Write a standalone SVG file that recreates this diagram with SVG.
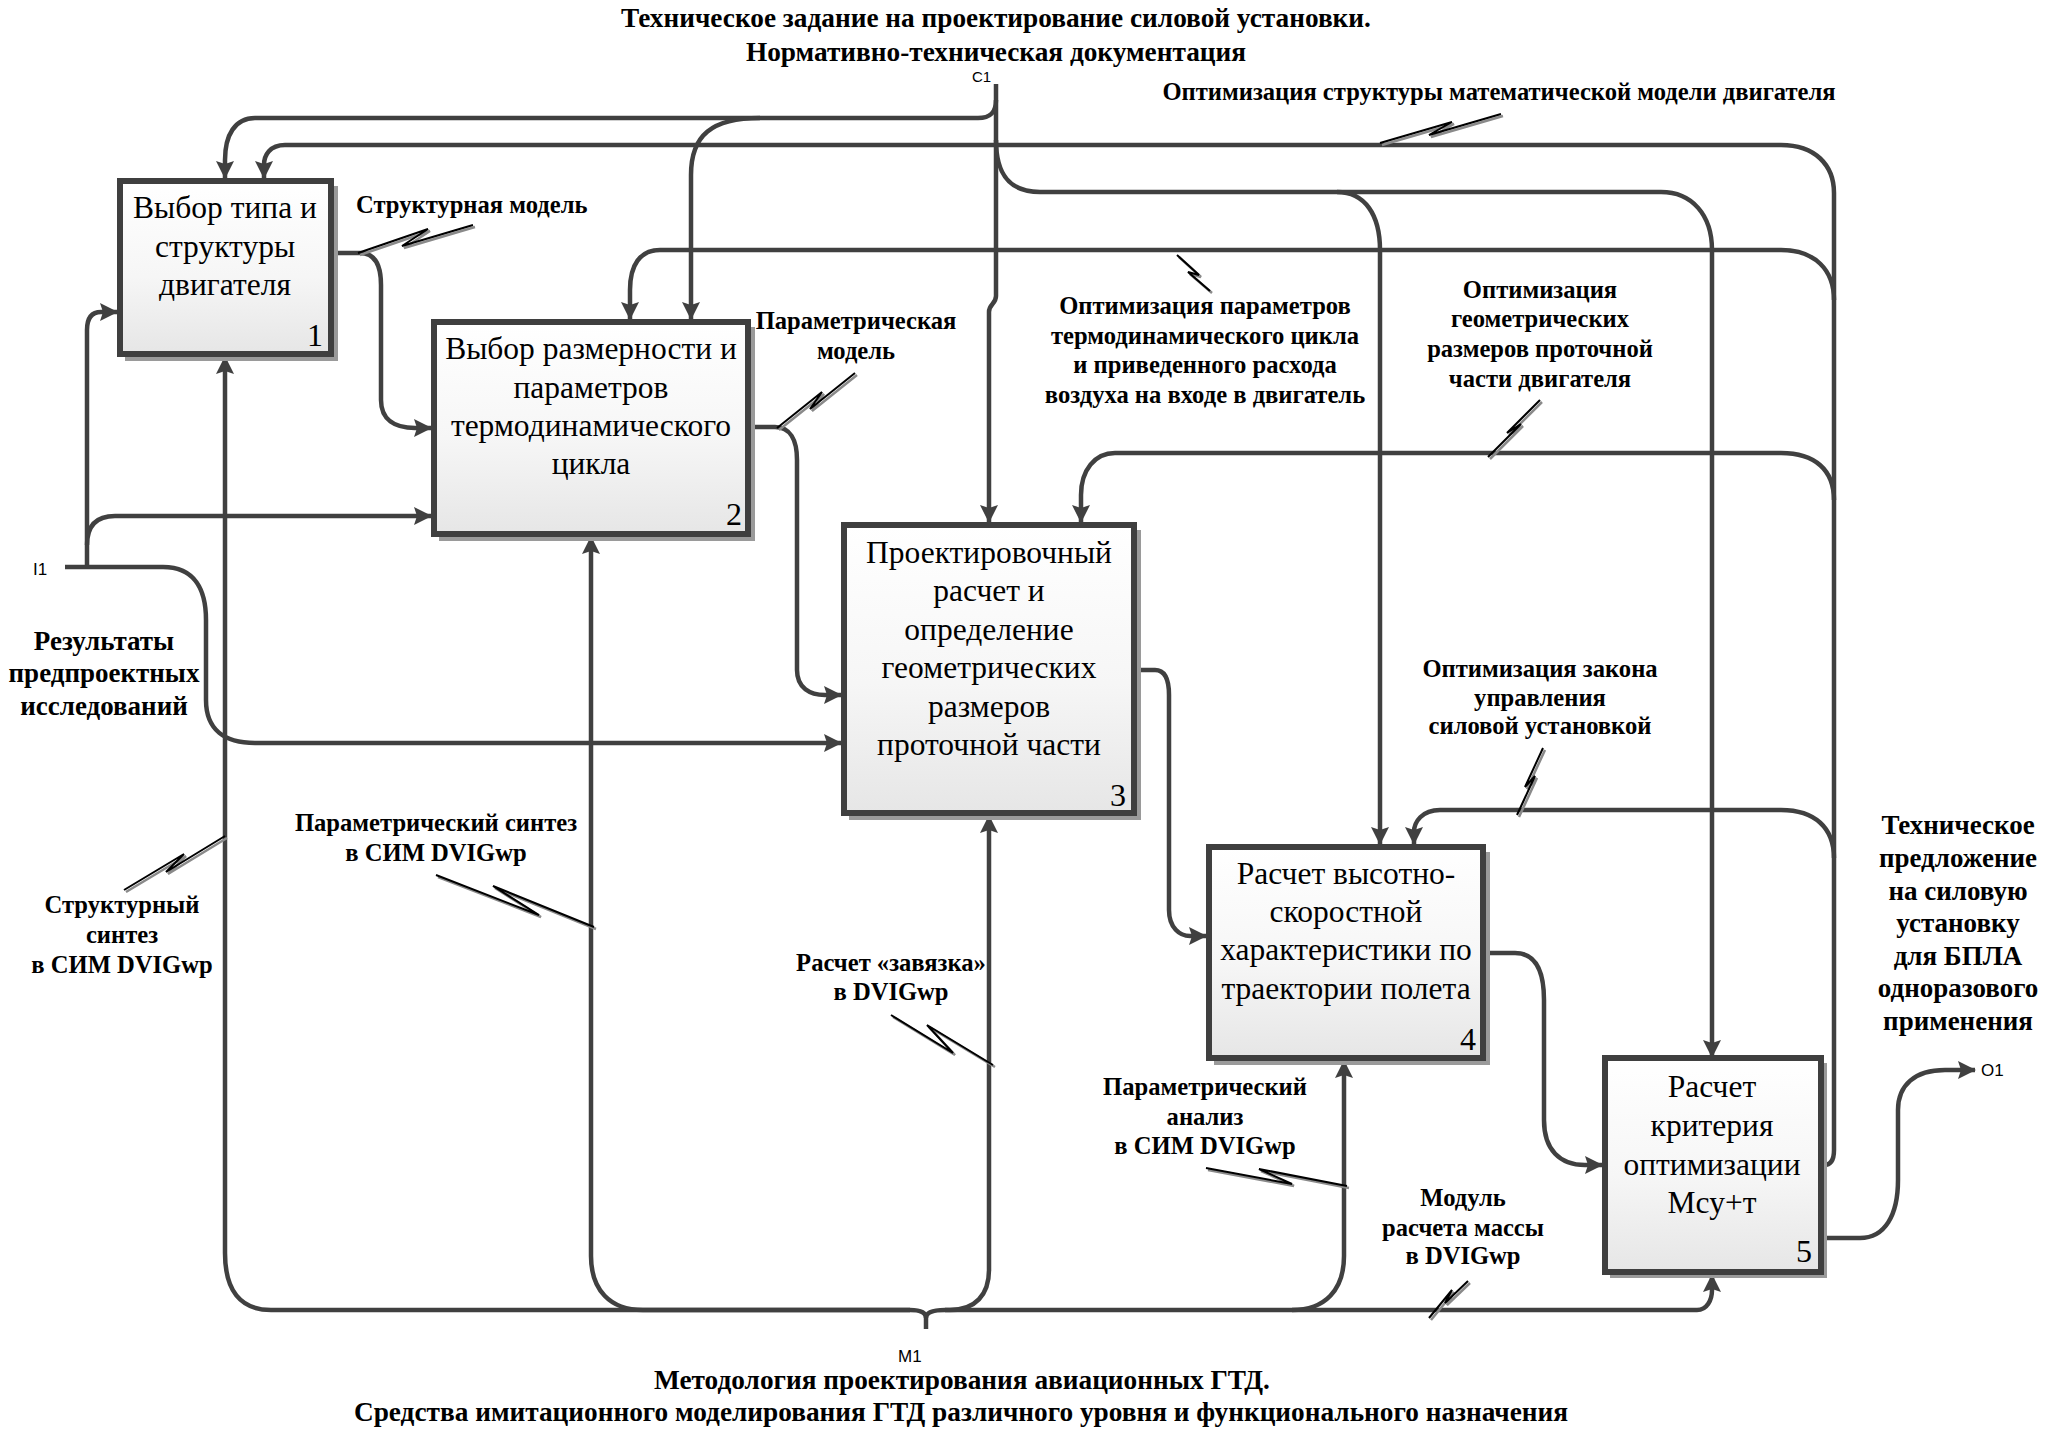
<svg xmlns="http://www.w3.org/2000/svg" width="2048" height="1433" viewBox="0 0 2048 1433">
<style>
.bg{fill:#ffffff}
.box{fill:url(#boxfill);stroke:#3f3f3f;stroke-width:6}
.shadow{fill:#9a9a9a}
.ln{fill:none;stroke:#404040;stroke-width:4.5;stroke-linejoin:round}
.arr{marker-end:url(#ah)}
.sq{fill:none;stroke:#000;stroke-width:2;stroke-linejoin:miter}
.sqs{fill:none;stroke:#8a8a8a;stroke-width:2.5}
.bt{font-family:"Liberation Serif","Times New Roman",serif;font-size:31.5px;fill:#000;text-anchor:middle}
.num{font-family:"Liberation Serif","Times New Roman",serif;font-size:32px;fill:#000;text-anchor:end}
.lb{font-family:"Liberation Serif","Times New Roman",serif;font-size:24.6px;font-weight:bold;fill:#000;text-anchor:middle}
.lbb{font-size:27px}
.ttl{font-family:"Liberation Serif","Times New Roman",serif;font-size:27.3px;font-weight:bold;fill:#000;text-anchor:middle}
.tag{font-family:"Liberation Sans",Arial,sans-serif;font-size:17px;fill:#000}
</style>
<defs>
<linearGradient id="boxfill" x1="0" y1="0" x2="0" y2="1">
<stop offset="0" stop-color="#ffffff"/>
<stop offset="0.55" stop-color="#f6f6f6"/>
<stop offset="1" stop-color="#e6e6e6"/>
</linearGradient>
<marker id="ah" markerUnits="userSpaceOnUse" markerWidth="18" markerHeight="18" viewBox="0 0 18 18" refX="17" refY="9" orient="auto">
<path d="M0,0 L18,9 L0,18 L3,9 z" fill="#404040"/>
</marker>
</defs>
<rect class="bg" x="0" y="0" width="2048" height="1433"/>

<g id="titles">
<text class="ttl" x="996" y="27">Техническое задание на проектирование силовой установки.</text>
<text class="ttl" x="996" y="61">Нормативно-техническая документация</text>
<text class="ttl" x="962" y="1389">Методология проектирования авиационных ГТД.</text>
<text class="ttl" x="961" y="1421">Средства имитационного моделирования ГТД различного уровня и функционального назначения</text>
<text class="tag" x="972" y="82" style="font-size:15px">C1</text>
<text class="tag" x="33" y="575">I1</text>
<text class="tag" x="898" y="1362">M1</text>
<text class="tag" x="1981" y="1076">O1</text>
</g>

<g id="connectors">
<!-- control C1 -->
<path class="ln arr" d="M996,84 V296 C996,304 989,304 989,312 V522"/>
<path class="ln arr" d="M996,100 C996,113 990,118 978,118 H255 C235,118 225,135 225,160 V178"/>
<path class="ln arr" d="M760,118 C712,118 691,135 691,175 V319"/>
<path class="ln arr" d="M996,140 C996,175 1010,192 1040,192 H1337 C1365,192 1380,215 1380,250 V844"/>
<path class="ln arr" d="M1337,192 H1661 C1692,192 1712,215 1712,250 V1057"/>
<!-- feedback trunk from box 5 -->
<path class="ln arr" d="M1824,1165 C1831,1165 1834,1160 1834,1150 V193 C1834,165 1815,145 1781,145 H285 C270,145 264,155 264,165 V178"/>
<path class="ln arr" d="M1834,300 C1834,270 1815,250 1781,250 H660 C640,250 630,265 630,290 V319"/>
<path class="ln arr" d="M1834,500 C1834,470 1815,453 1781,453 H1115 C1095,453 1081,470 1081,495 V522"/>
<path class="ln arr" d="M1834,858 C1834,828 1815,810 1781,810 H1440 C1422,810 1414,822 1414,832 V844"/>
<!-- input I1 -->
<path class="ln arr" d="M65,567 H163 C195,567 206,590 206,620 V700 C206,730 225,743 255,743 H841"/>
<path class="ln arr" d="M87,567 V545 C87,525 97,516 115,516 H431"/>
<path class="ln arr" d="M87,545 V330 C87,318 92,312 101,312 H117"/>
<!-- box to box -->
<path class="ln arr" d="M334,253 H360 C375,253 381,265 381,285 V400 C381,420 395,428 415,428 H431"/>
<path class="ln arr" d="M751,427 H775 C790,427 797,440 797,460 V670 C797,688 810,695 825,695 H841"/>
<path class="ln arr" d="M1137,670 H1155 C1165,670 1169,680 1169,695 V910 C1169,928 1180,936 1190,936 H1206"/>
<path class="ln arr" d="M1486,953 H1515 C1535,953 1544,970 1544,1000 V1120 C1544,1150 1560,1165 1585,1165 H1602"/>
<path class="ln arr" d="M1824,1238 H1860 C1885,1238 1898,1215 1898,1180 V1110 C1898,1085 1915,1070 1945,1070 H1975"/>
<!-- mechanism M1 -->
<path class="ln" d="M926,1329 V1318"/>
<path class="ln arr" d="M926,1318 C926,1313 921,1310 910,1310 H271 C240,1310 225,1290 225,1253 V357"/>
<path class="ln arr" d="M910,1310 H643 C610,1310 591,1290 591,1256 V537"/>
<path class="ln arr" d="M926,1318 C926,1313 932,1310 945,1310 H950 C975,1310 989,1295 989,1270 V816"/>
<path class="ln arr" d="M945,1310 H1292 C1325,1310 1344,1290 1344,1256 V1061"/>
<path class="ln arr" d="M1292,1310 H1697 C1707,1310 1712,1300 1712,1290 V1275"/>
<!-- squiggles -->
<g id="squiggles">
<g transform="translate(2,2)">
<path class="sqs" d="M358,253 L428,229 L402,246 L473,225"/>
<path class="sqs" d="M777,428 L822,392 L810,409 L855,373"/>
<path class="sqs" d="M1380,143 L1452,122 L1429,135 L1501,114"/>
<path class="sqs" d="M1177,255 L1199,275 L1188,272 L1210,291"/>
<path class="sqs" d="M1488,457 L1521,424 L1507,433 L1540,400"/>
<path class="sqs" d="M1517,815 L1535,776 L1525,787 L1543,748"/>
<path class="sqs" d="M124,890 L184,854 L166,872 L225,836"/>
<path class="sqs" d="M436,875 L539,915 L493,886 L594,927"/>
<path class="sqs" d="M891,1015 L953,1053 L927,1025 L993,1065"/>
<path class="sqs" d="M1206,1168 L1292,1184 L1259,1169 L1347,1186"/>
<path class="sqs" d="M1429,1318 L1452,1290 L1445,1303 L1468,1281"/>
</g>
<path class="sq" d="M358,253 L428,229 L402,246 L473,225"/>
<path class="sq" d="M777,428 L822,392 L810,409 L855,373"/>
<path class="sq" d="M1380,143 L1452,122 L1429,135 L1501,114"/>
<path class="sq" d="M1177,255 L1199,275 L1188,272 L1210,291"/>
<path class="sq" d="M1488,457 L1521,424 L1507,433 L1540,400"/>
<path class="sq" d="M1517,815 L1535,776 L1525,787 L1543,748"/>
<path class="sq" d="M124,890 L184,854 L166,872 L225,836"/>
<path class="sq" d="M436,875 L539,915 L493,886 L594,927"/>
<path class="sq" d="M891,1015 L953,1053 L927,1025 L993,1065"/>
<path class="sq" d="M1206,1168 L1292,1184 L1259,1169 L1347,1186"/>
<path class="sq" d="M1429,1318 L1452,1290 L1445,1303 L1468,1281"/>
</g>
</g>

<g id="labels">
<text class="lb" x="356" y="213" style="text-anchor:start">Структурная модель</text>
<text class="lb" x="856" y="329">Параметрическая</text>
<text class="lb" x="856" y="359">модель</text>
<text class="lb" x="1499" y="100">Оптимизация структуры математической модели двигателя</text>
<text class="lb" x="1205" y="314">Оптимизация параметров</text>
<text class="lb" x="1205" y="344">термодинамического цикла</text>
<text class="lb" x="1205" y="373">и приведенного расхода</text>
<text class="lb" x="1205" y="403">воздуха на входе в двигатель</text>
<text class="lb" x="1540" y="298">Оптимизация</text>
<text class="lb" x="1540" y="327">геометрических</text>
<text class="lb" x="1540" y="357">размеров проточной</text>
<text class="lb" x="1540" y="387">части двигателя</text>
<text class="lb" x="1540" y="677">Оптимизация закона</text>
<text class="lb" x="1540" y="706">управления</text>
<text class="lb" x="1540" y="734">силовой установкой</text>
<text class="lb lbb" x="104" y="650">Результаты</text>
<text class="lb lbb" x="104" y="682">предпроектных</text>
<text class="lb lbb" x="104" y="715">исследований</text>
<text class="lb" x="436" y="831">Параметрический синтез</text>
<text class="lb" x="436" y="861">в СИМ DVIGwp</text>
<text class="lb" x="122" y="913">Структурный</text>
<text class="lb" x="122" y="943">синтез</text>
<text class="lb" x="122" y="973">в СИМ DVIGwp</text>
<text class="lb" x="891" y="971">Расчет «завязка»</text>
<text class="lb" x="891" y="1000">в DVIGwp</text>
<text class="lb" x="1205" y="1095">Параметрический</text>
<text class="lb" x="1205" y="1125">анализ</text>
<text class="lb" x="1205" y="1154">в СИМ DVIGwp</text>
<text class="lb" x="1463" y="1206">Модуль</text>
<text class="lb" x="1463" y="1236">расчета массы</text>
<text class="lb" x="1463" y="1264">в DVIGwp</text>
<text class="lb lbb" x="1958" y="834">Техническое</text>
<text class="lb lbb" x="1958" y="867">предложение</text>
<text class="lb lbb" x="1958" y="900">на силовую</text>
<text class="lb lbb" x="1958" y="932">установку</text>
<text class="lb lbb" x="1958" y="965">для БПЛА</text>
<text class="lb lbb" x="1958" y="997">одноразового</text>
<text class="lb lbb" x="1958" y="1030">применения</text>
</g>

<g id="node1">
<rect class="shadow" x="125" y="186" width="213" height="175"/>
<rect class="box" x="120" y="181" width="211" height="173"/>
<text class="bt" x="225" y="218">Выбор типа и</text>
<text class="bt" x="225" y="257">структуры</text>
<text class="bt" x="225" y="295">двигателя</text>
<text class="num" x="323" y="346">1</text>
</g>

<g id="node2">
<rect class="shadow" x="439" y="327" width="316" height="214"/>
<rect class="box" x="434" y="322" width="314" height="212"/>
<text class="bt" x="591" y="359">Выбор размерности и</text>
<text class="bt" x="591" y="398">параметров</text>
<text class="bt" x="591" y="436">термодинамического</text>
<text class="bt" x="591" y="474">цикла</text>
<text class="num" x="742" y="525">2</text>
</g>

<g id="node3">
<rect class="shadow" x="849" y="530" width="292" height="290"/>
<rect class="box" x="844" y="525" width="290" height="288"/>
<text class="bt" x="989" y="563">Проектировочный</text>
<text class="bt" x="989" y="601">расчет и</text>
<text class="bt" x="989" y="640">определение</text>
<text class="bt" x="989" y="678">геометрических</text>
<text class="bt" x="989" y="717">размеров</text>
<text class="bt" x="989" y="755">проточной части</text>
<text class="num" x="1126" y="806">3</text>
</g>

<g id="node4">
<rect class="shadow" x="1214" y="852" width="276" height="213"/>
<rect class="box" x="1209" y="847" width="274" height="211"/>
<text class="bt" x="1346" y="884">Расчет высотно-</text>
<text class="bt" x="1346" y="922">скоростной</text>
<text class="bt" x="1346" y="960">характеристики по</text>
<text class="bt" x="1346" y="999">траектории полета</text>
<text class="num" x="1476" y="1050">4</text>
</g>

<g id="node5">
<rect class="shadow" x="1610" y="1063" width="217" height="215"/>
<rect class="box" x="1605" y="1058" width="216" height="214"/>
<text class="bt" x="1712" y="1097">Расчет</text>
<text class="bt" x="1712" y="1136">критерия</text>
<text class="bt" x="1712" y="1175">оптимизации</text>
<text class="bt" x="1712" y="1213">Мсу+т</text>
<text class="num" x="1812" y="1262">5</text>
</g>
</svg>
